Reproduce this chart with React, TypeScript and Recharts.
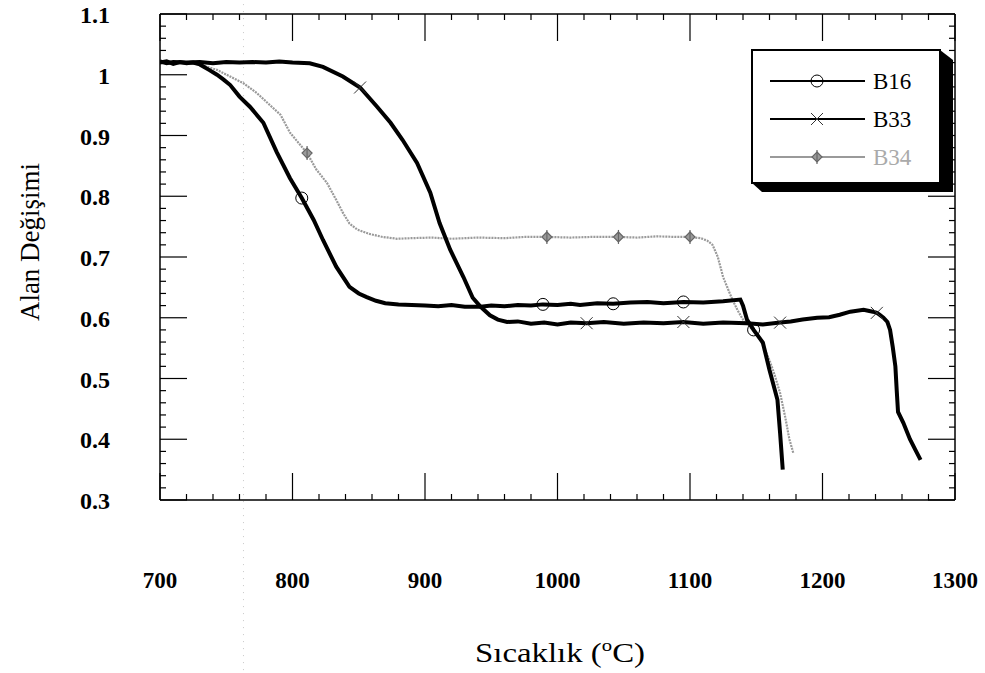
import React from 'react'
import { LineChart, Line, XAxis, YAxis, ReferenceLine } from 'recharts'

// temperature (°C) and area change readings, per sample
const b16Temp = [
  700, 705, 710, 715, 720, 725, 730, 737, 743, 748, 753, 760, 768, 778, 788, 798, 807, 816, 823, 833, 843,
  850, 856, 863, 870, 880, 890, 900, 910, 920, 930, 942, 950, 960, 970, 980, 989, 1000, 1010, 1017, 1030,
  1042, 1055, 1068, 1080, 1095, 1110, 1125, 1138, 1140, 1143, 1148, 1155, 1160, 1166, 1168, 1170
]
const b16Area = [
  1.02, 1.022, 1.018, 1.021, 1.019, 1.02, 1.017, 1.008, 1.0, 0.992, 0.983, 0.964, 0.947, 0.921, 0.873, 0.83,
  0.797, 0.761, 0.728, 0.684, 0.651, 0.64, 0.634, 0.628, 0.624, 0.622, 0.621, 0.62, 0.619, 0.621, 0.618,
  0.618, 0.62, 0.619, 0.621, 0.62, 0.622, 0.621, 0.623, 0.621, 0.624, 0.623, 0.625, 0.626, 0.624, 0.626,
  0.625, 0.627, 0.63, 0.62, 0.597, 0.58, 0.559, 0.514, 0.465, 0.41, 0.35
]
const b16Markers = [807, 989, 1042, 1095, 1148]

const b33Temp = [
  700, 705, 710, 720, 730, 740, 750, 760, 770, 780,
  790, 800, 813, 823, 838, 851, 864, 874, 883, 894,
  904, 911, 919, 929, 936, 942, 949, 955, 962, 970,
  980, 990, 1000, 1010, 1022, 1035, 1050, 1065, 1080, 1095,
  1110, 1125, 1143, 1155, 1168, 1176, 1185, 1196, 1205, 1213,
  1221, 1231, 1238, 1241, 1243, 1246, 1249, 1251, 1253, 1255,
  1256, 1257, 1261, 1266, 1270, 1274
]
const b33Area = [
  1.022, 1.019, 1.021, 1.02, 1.021, 1.019, 1.021, 1.02, 1.021, 1.02,
  1.022, 1.02, 1.019, 1.013, 0.997, 0.979, 0.947, 0.921, 0.893, 0.855,
  0.806, 0.756, 0.712, 0.667, 0.633, 0.618, 0.604, 0.597, 0.593, 0.594,
  0.59, 0.592, 0.589, 0.592, 0.591, 0.593, 0.59, 0.592, 0.591, 0.593,
  0.59, 0.592, 0.591, 0.589, 0.592, 0.594, 0.597, 0.6, 0.601, 0.605,
  0.61, 0.613, 0.61, 0.608, 0.605, 0.6, 0.593, 0.58, 0.552, 0.52,
  0.481, 0.445, 0.427, 0.4, 0.383, 0.366
]
const b33Markers = [851, 1022, 1095, 1168, 1241]

const b34Temp = [
  700, 710, 720, 730, 743, 753, 763, 773, 781, 791,
  798, 811, 818, 826, 833, 838, 843, 849, 858, 868,
  879, 890, 905, 920, 940, 960, 975, 992, 1010, 1025,
  1046, 1060, 1075, 1090, 1100, 1108, 1113, 1117, 1121, 1125,
  1128, 1130, 1132, 1136, 1140, 1145, 1150, 1155, 1160, 1164,
  1168, 1172, 1175, 1178
]
const b34Area = [
  1.02, 1.021, 1.02, 1.017, 1.008, 0.997, 0.986, 0.97, 0.954, 0.934,
  0.905, 0.871, 0.844, 0.822, 0.794, 0.773, 0.755, 0.745, 0.738, 0.733,
  0.73, 0.731, 0.732, 0.73, 0.732, 0.731, 0.733, 0.733, 0.732, 0.733,
  0.733, 0.732, 0.734, 0.733, 0.733, 0.731, 0.727, 0.72, 0.7, 0.667,
  0.651, 0.64, 0.63, 0.612, 0.597, 0.585, 0.575, 0.555, 0.53, 0.505,
  0.476, 0.435, 0.4, 0.377
]
const b34Markers = [811, 992, 1046, 1100]

const xMajor = [700, 800, 900, 1000, 1100, 1200, 1300]
const yMajor = [0.3, 0.4, 0.5, 0.6, 0.7, 0.8, 0.9, 1, 1.1]

const xTicks = Array.from({ length: 31 }, (_, i) => 700 + i * 20)
const yTicks = Array.from({ length: 41 }, (_, i) => (30 + i * 2) / 100)

const FONT = '"Liberation Serif", "DejaVu Serif", serif'
const GRAY = '#9a9a9a'

const toSeries = (temp: number[], area: number[], markers: number[]) =>
  temp.map((t, i) => ({ t, v: area[i], m: markers.includes(t) }))

const b16 = toSeries(b16Temp, b16Area, b16Markers)
const b33 = toSeries(b33Temp, b33Area, b33Markers)
const b34 = toSeries(b34Temp, b34Area, b34Markers)

function Circle({ cx, cy }: { cx: number; cy: number }) {
  return <circle cx={cx} cy={cy} r={6} fill="none" stroke="#000" strokeWidth={1} />
}
function Cross({ cx, cy }: { cx: number; cy: number }) {
  const s = 6
  return (
    <g stroke="#333" strokeWidth={1}>
      <line x1={cx - s} y1={cy - s} x2={cx + s} y2={cy + s} />
      <line x1={cx - s} y1={cy + s} x2={cx + s} y2={cy - s} />
    </g>
  )
}
function Star({ cx, cy }: { cx: number; cy: number }) {
  const s = 5
  return (
    <g stroke="#666" strokeWidth={1.2} fill={GRAY}>
      <polygon points={`${cx},${cy - s} ${cx + s},${cy} ${cx},${cy + s} ${cx - s},${cy}`} />
      <line x1={cx} y1={cy - s - 2} x2={cx} y2={cy + s + 2} />
    </g>
  )
}

const markerDot = (Shape: typeof Circle) => (props: any) => {
  const { cx, cy, payload, index } = props
  if (!payload?.m) return <g key={`d${index}`} />
  return <Shape key={`d${index}`} cx={cx} cy={cy} />
}

const isMajorX = (v: number) => xMajor.includes(v)
const isMajorY = (v: number) => yMajor.some((m) => Math.abs(m - v) < 1e-6)

function BottomTick({ x, y, payload }: any) {
  const major = isMajorX(payload.value)
  return (
    <g>
      <line x1={x} y1={y} x2={x} y2={y - (major ? 27 : 6)} stroke="#000" strokeWidth={1.2} />
      {major && (
        <text x={x} y={y + 88} textAnchor="middle" fontFamily={FONT} fontSize={23} fontWeight="bold" fill="#000">
          {payload.value}
        </text>
      )}
    </g>
  )
}
function TopTick({ x, y, payload }: any) {
  const major = isMajorX(payload.value)
  return <line x1={x} y1={y} x2={x} y2={y + (major ? 27 : 6)} stroke="#000" strokeWidth={1.2} />
}
function LeftTick({ x, y, payload }: any) {
  const major = isMajorY(payload.value)
  return (
    <g>
      <line x1={x} y1={y} x2={x + (major ? 27 : 6)} y2={y} stroke="#000" strokeWidth={1.2} />
      {major && (
        <text x={x - 50} y={y + 9} textAnchor="end" fontFamily={FONT} fontSize={24} fontWeight="bold" fill="#000">
          {String(payload.value)}
        </text>
      )}
    </g>
  )
}
function RightTick({ x, y, payload }: any) {
  const major = isMajorY(payload.value)
  return <line x1={x} y1={y} x2={x - (major ? 27 : 6)} y2={y} stroke="#000" strokeWidth={1.2} />
}

const legendRows = [
  { name: 'B16', stroke: '#000', text: '#000', Shape: Circle },
  { name: 'B33', stroke: '#000', text: '#000', Shape: Cross },
  { name: 'B34', stroke: GRAY, text: '#aaa', Shape: Star }
]

export default function App() {
  return (
    <div style={{ position: 'absolute', left: 0, top: 0, width: 985, height: 673, background: '#fff' }}>
      <LineChart width={985} height={673} margin={{ top: 0, right: 0, bottom: 0, left: 0 }}>
        <XAxis
          xAxisId="b"
          type="number"
          dataKey="t"
          domain={[700, 1300]}
          ticks={xTicks}
          interval={0}
          height={173}
          tickSize={0}
          tickMargin={0}
          tickLine={false}
          axisLine={{ stroke: '#000', strokeWidth: 1.5 }}
          tick={<BottomTick />}
          allowDataOverflow
        />
        <XAxis
          xAxisId="t"
          orientation="top"
          type="number"
          dataKey="t"
          domain={[700, 1300]}
          ticks={xTicks}
          interval={0}
          height={14}
          tickSize={0}
          tickMargin={0}
          tickLine={false}
          axisLine={{ stroke: '#000', strokeWidth: 1.5 }}
          tick={<TopTick />}
          allowDataOverflow
        />
        <YAxis
          yAxisId="l"
          type="number"
          dataKey="v"
          domain={[0.3, 1.1]}
          ticks={yTicks}
          interval={0}
          width={160}
          tickSize={0}
          tickMargin={0}
          tickLine={false}
          axisLine={{ stroke: '#000', strokeWidth: 1.5 }}
          tick={<LeftTick />}
          allowDataOverflow
        />
        <YAxis
          yAxisId="r"
          orientation="right"
          type="number"
          dataKey="v"
          domain={[0.3, 1.1]}
          ticks={yTicks}
          interval={0}
          width={30}
          tickSize={0}
          tickMargin={0}
          tickLine={false}
          axisLine={{ stroke: '#000', strokeWidth: 1.5 }}
          tick={<RightTick />}
          allowDataOverflow
        />
        <ReferenceLine
          xAxisId="b"
          yAxisId="l"
          segment={[{ x: 763, y: 0.02 }, { x: 763, y: 1.12 }]}
          ifOverflow="visible"
          stroke="#c8c8c8"
          strokeDasharray="1 6"
        />
        <Line
          xAxisId="b"
          yAxisId="l"
          data={b34}
          dataKey="v"
          type="linear"
          stroke={GRAY}
          strokeWidth={2.2}
          strokeDasharray="2 1"
          dot={markerDot(Star)}
          activeDot={false}
          isAnimationActive={false}
        />
        <Line
          xAxisId="b"
          yAxisId="l"
          data={b33}
          dataKey="v"
          type="linear"
          stroke="#000"
          strokeWidth={4}
          dot={markerDot(Cross)}
          activeDot={false}
          isAnimationActive={false}
        />
        <Line
          xAxisId="b"
          yAxisId="l"
          data={b16}
          dataKey="v"
          type="linear"
          stroke="#000"
          strokeWidth={4}
          dot={markerDot(Circle)}
          activeDot={false}
          isAnimationActive={false}
        />
      </LineChart>

      <svg width={985} height={673} style={{ position: 'absolute', left: 0, top: 0, pointerEvents: 'none' }}>
        <text
          x={30}
          y={242}
          transform="rotate(-90 30 242)"
          textAnchor="middle"
          dominantBaseline="central"
          fontFamily={FONT}
          fontSize={27}
          fill="#000"
        >
          Alan Değişimi
        </text>
        <text
          x={560}
          y={662}
          textAnchor="middle"
          fontFamily={FONT}
          fontSize={27}
          fill="#000"
          textLength={170}
          lengthAdjust="spacingAndGlyphs"
        >
          Sıcaklık (<tspan fontSize={17} dy={-11}>o</tspan>
          <tspan dy={11}>C)</tspan>
        </text>

        <polygon points="940,50 953,60 953,192 762,192 752,183" fill="#000" />
        <rect x={752} y={50} width={188} height={133} fill="#fff" stroke="#000" strokeWidth={2} />
        {legendRows.map((r, i) => {
          const y = 81 + i * 38
          return (
            <g key={r.name}>
              <line x1={770} y1={y} x2={865} y2={y} stroke={r.stroke} strokeWidth={2} />
              <r.Shape cx={817} cy={y} />
              <text x={873} y={y + 8} fontFamily={FONT} fontSize={23} fill={r.text}>
                {r.name}
              </text>
            </g>
          )
        })}
      </svg>
    </div>
  )
}
